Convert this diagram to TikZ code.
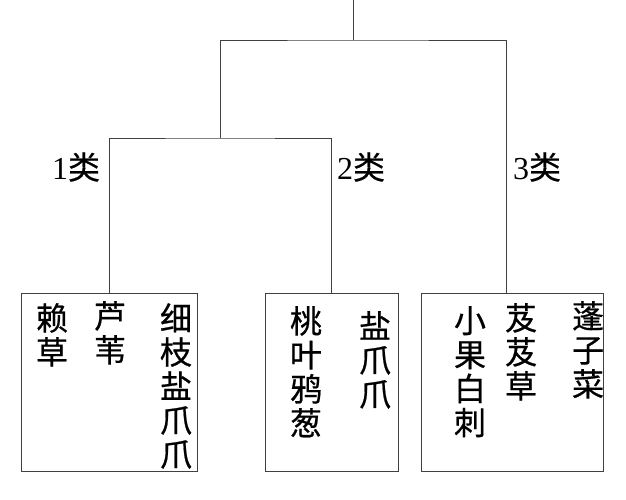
\documentclass[tikz,border=0pt]{standalone}
\usepackage{fontspec}
\setmainfont{Liberation Serif}
\newfontfamily\cjk[FakeBold=0.6]{Noto Sans CJK SC}
\usepackage{tikz}

\begin{document}
\begin{tikzpicture}[x=1pt,y=-1pt,
    link/.style={draw=black!75,line width=0.9pt},
    group/.style={draw=black!75,line width=0.9pt,rectangle,minimum height=178pt,inner sep=0pt},
    col/.style={anchor=north,inner sep=0pt,align=center,font=\cjk\fontsize{32}{34}\selectfont},
    cls/.style={inner sep=0pt,font=\fontsize{32}{34}\selectfont}]
      \useasboundingbox (0,0) rectangle (626,500);

      \node[group,minimum width=176pt] (boxA) at (109,382) {};
      \node[group,minimum width=133pt] (boxB) at (331.5,382) {};
      \node[group,minimum width=182pt] (boxC) at (512,382) {};

      \coordinate (root) at (353,0);
      \coordinate (j0) at (353,40);
      \coordinate (j12) at (220,138);
      \coordinate (c3) at (506,293);

      \draw[link] (root) -- (j0);
      \draw[link] (j12) |- (j0) -| (c3);
      \draw[link] (boxA.north) |- (j12) -| (boxB.north);

      \node[cls] (lab1) at (76,167) {1{\cjk 类}};
      \node[cls] (lab2) at (361,167) {2{\cjk 类}};
      \node[cls] (lab3) at (537,167) {3{\cjk 类}};

      \node[col] (laicao) at (52,303) {赖\\草};
      \node[col] (luwei) at (110,301) {芦\\苇};
      \node[col] (xizhi) at (176,303) {细\\枝\\盐\\爪\\爪};
      \node[col] (taoye) at (306,306) {桃\\叶\\鸦\\葱};
      \node[col] (yanzhao) at (375,311) {盐\\爪\\爪};
      \node[col] (xiaoguo) at (470,306) {小\\果\\白\\刺};
      \node[col] (jiji) at (521,303) {芨\\芨\\草};
      \node[col] (pengzi) at (588,301) {蓬\\子\\菜};
    \end{tikzpicture}
\end{document}
